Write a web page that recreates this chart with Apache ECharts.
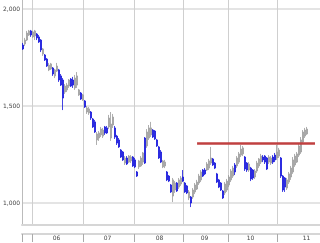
<!DOCTYPE html>
<html>
<head>
<meta charset="utf-8">
<script src="https://cdn.jsdelivr.net/npm/echarts@6/dist/echarts.min.js"></script>
<style>
html,body{margin:0;padding:0;background:#fff;}
#chart{width:320px;height:243px;}
</style>
</head>
<body>
<div id="chart"></div>
<script>
// Candles: [open, close, low, high], one per period (about two weeks)
const candles = [
[1814,1794,1789,1825],[1820,1840,1809,1851],[1840,1876,1835,1887],[1866,1887,1861,1892],
[1887,1866,1856,1892],[1856,1882,1851,1887],[1861,1887,1840,1892],[1871,1851,1840,1876],
[1856,1830,1825,1866],[1840,1789,1778,1845],[1768,1794,1758,1799],[1763,1737,1732,1768],
[1742,1706,1701,1747],[1686,1711,1680,1722],[1691,1717,1686,1722],[1696,1665,1655,1701],
[1655,1686,1644,1691],[1680,1706,1675,1722],[1686,1634,1624,1691],[1655,1608,1603,1665],
[1634,1541,1479,1644],[1572,1603,1562,1613],[1583,1608,1572,1619],[1603,1634,1593,1639],
[1639,1603,1598,1644],[1634,1608,1593,1650],[1593,1644,1583,1660],[1608,1655,1593,1675],
[1557,1583,1552,1588],[1567,1536,1531,1572],[1531,1557,1526,1562],[1526,1495,1490,1531],
[1469,1490,1459,1500],[1464,1485,1454,1495],[1469,1438,1428,1474],[1433,1392,1387,1438],
[1418,1366,1361,1428],[1325,1356,1299,1366],[1335,1361,1320,1371],[1351,1381,1340,1392],
[1345,1376,1335,1387],[1392,1361,1351,1397],[1387,1361,1356,1397],[1392,1438,1381,1454],
[1335,1407,1320,1469],[1402,1443,1387,1459],[1387,1340,1330,1397],[1345,1309,1299,1351],
[1325,1289,1284,1335],[1273,1237,1232,1278],[1263,1222,1217,1268],[1206,1232,1196,1242],
[1232,1201,1196,1242],[1211,1242,1206,1247],[1217,1237,1206,1247],[1237,1191,1186,1242],
[1222,1186,1180,1232],[1160,1139,1134,1165],[1186,1217,1175,1222],[1191,1232,1186,1242],
[1211,1258,1196,1263],[1335,1206,1201,1340],[1294,1366,1284,1381],[1335,1387,1325,1402],
[1351,1387,1340,1418],[1376,1340,1335,1381],[1371,1330,1325,1376],[1325,1294,1289,1330],
[1289,1232,1227,1294],[1263,1211,1206,1273],[1186,1217,1180,1222],[1191,1211,1180,1222],
[1160,1119,1113,1165],[1139,1113,1108,1144],[1093,1057,1052,1098],[1036,1119,1005,1129],
[1067,1103,1052,1113],[1103,1062,1057,1108],[1082,1119,1072,1129],[1098,1129,1088,1139],
[1134,1113,1108,1170],[1103,1057,1052,1108],[1088,1052,1046,1093],[1026,1057,1015,1067],
[1031,1000,979,1036],[1031,1067,1021,1077],[1057,1093,1046,1103],[1072,1108,1067,1119],
[1103,1139,1093,1150],[1119,1160,1108,1170],[1170,1139,1134,1175],[1170,1150,1144,1180],
[1170,1201,1165,1211],[1180,1217,1170,1227],[1206,1232,1196,1289],[1227,1196,1191,1232],
[1206,1180,1175,1211],[1150,1108,1103,1155],[1119,1082,1077,1124],[1103,1067,1062,1108],
[1062,1026,1021,1067],[1052,1098,1041,1108],[1067,1113,1057,1124],[1093,1134,1082,1144],
[1119,1165,1108,1175],[1139,1180,1129,1191],[1196,1160,1144,1206],[1191,1232,1180,1242],
[1211,1253,1201,1263],[1247,1278,1237,1299],[1253,1284,1242,1294],[1237,1175,1165,1242],
[1206,1170,1160,1211],[1170,1201,1160,1211],[1180,1124,1113,1186],[1170,1129,1119,1175],
[1134,1165,1124,1175],[1165,1206,1155,1217],[1191,1227,1180,1232],[1211,1242,1201,1253],
[1237,1222,1211,1247],[1242,1211,1201,1247],[1232,1175,1170,1237],[1211,1237,1201,1247],
[1206,1232,1196,1242],[1237,1211,1201,1247],[1247,1222,1211,1258],[1232,1263,1222,1299],
[1242,1273,1232,1284],[1232,1139,1129,1237],[1139,1067,1057,1144],[1129,1082,1057,1134],
[1077,1119,1067,1129],[1108,1150,1098,1160],[1134,1180,1119,1191],[1160,1222,1150,1237],
[1196,1242,1186,1253],[1211,1253,1206,1263],[1247,1294,1237,1304],[1263,1325,1253,1340],
[1314,1366,1304,1376],[1345,1376,1335,1387],[1356,1381,1351,1392]
];
const periodCount = 149;               // candle slots across the plot
const periods = Array.from({length: periodCount}, (_, i) => 'P' + i);

// Weekly time scale used for year gridlines and labels
const weekCount = 298;
const weeks = Array.from({length: weekCount}, (_, i) => 'W' + i);
const yearStartWeeks = [10, 61, 112, 161, 206, 255];
const yearLabels = ['06', '07', '08', '09', '10', '11'];
const yearLabelWeeks = [34, 85, 137, 182, 228, 284];

// Price axis
const yMin = 1000, yMax = 2000, yStep = 500;

// Resistance line
const resistance = 1307;
const resistanceFrom = 87, resistanceTo = 146;

const chart = echarts.init(document.getElementById('chart'), null, {renderer: 'canvas'});
const gridColor = '#e4e4e4';
const vGridColor = '#cfcfcf';

chart.setOption({
  animation: false,
  backgroundColor: '#ffffff',
  grid: [
    {left: 22, right: 0, top: 9, bottom: 40, containLabel: false},
    {left: 22, right: 0, top: 0, bottom: 18, containLabel: false}
  ],
  xAxis: [
    {
      type: 'category', gridIndex: 0, data: periods, boundaryGap: true,
      axisLine: {show: false}, axisTick: {show: false}, axisLabel: {show: false}, splitLine: {show: false}
    },
    {
      type: 'category', gridIndex: 1, data: weeks, boundaryGap: true, position: 'bottom',
      axisLine: {show: true, lineStyle: {color: '#d6d6d6', width: 2}},
      axisTick: {show: false}, axisLabel: {show: false},
      splitLine: {show: true, interval: (i) => yearStartWeeks.includes(i), lineStyle: {color: vGridColor, width: 1}}
    },
    {
      type: 'category', gridIndex: 1, data: weeks, boundaryGap: true, position: 'bottom', offset: 9,
      axisLine: {show: true, lineStyle: {color: '#d6d6d6', width: 2}},
      axisTick: {show: true, interval: (i) => yearStartWeeks.includes(i) || i === 0, length: 8, lineStyle: {color: '#aaaaaa'}},
      axisLabel: {
        show: true, interval: (i) => yearLabelWeeks.includes(i),
        formatter: (v, i) => { const k = yearLabelWeeks.indexOf(i); return k >= 0 ? yearLabels[k] : ''; },
        fontSize: 6, color: '#444', margin: 1, fontFamily: 'DejaVu Sans'
      },
      splitLine: {show: false}
    }
  ],
  yAxis: [
    {
      type: 'value', gridIndex: 0, min: yMin, max: yMax, interval: yStep,
      axisLine: {show: false}, axisTick: {show: false},
      axisLabel: {show: true, fontSize: 6, color: '#444', margin: 2, fontFamily: 'DejaVu Sans',
        formatter: (v) => v.toLocaleString('en-US')},
      splitLine: {show: true, lineStyle: {color: gridColor, width: 2}}
    },
    {
      type: 'value', gridIndex: 1, min: 0, max: 1,
      axisLine: {show: true, lineStyle: {color: '#bbbbbb', width: 1}},
      axisTick: {show: false}, axisLabel: {show: false}, splitLine: {show: false}
    }
  ],
  series: [
    {
      type: 'candlestick', xAxisIndex: 0, yAxisIndex: 0, data: candles, clip: false,
      barWidth: 1.5,
      itemStyle: {color: '#bcbcbc', color0: '#1414dc', borderColor: '#9a9a9a', borderColor0: '#1414dc', borderWidth: 0.8},
      markLine: {
        silent: true, symbol: 'none', label: {show: false},
        lineStyle: {color: '#c04040', width: 2.5, type: 'solid'},
        data: [[{coord: [resistanceFrom, resistance]}, {coord: [resistanceTo, resistance]}]]
      }
    }
  ]
});
</script>
</body>
</html>
